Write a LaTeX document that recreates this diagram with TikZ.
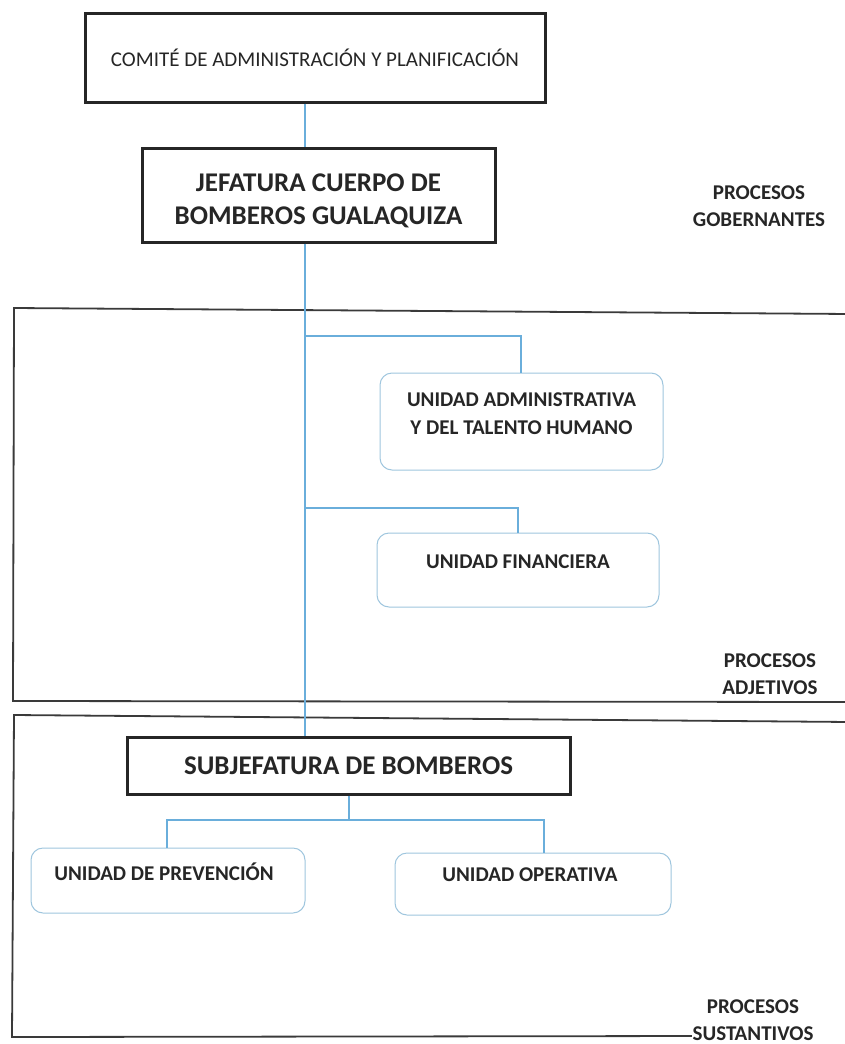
\documentclass[tikz,border=0pt]{standalone}
\usepackage{fontspec}
\setmainfont{Carlito}
\definecolor{ink}{HTML}{262626}
\definecolor{conncol}{HTML}{6AAEDB}
\definecolor{boxcol}{HTML}{9FC6DE}
\definecolor{framecol}{HTML}{3A3A3A}
\tikzset{
  heavybox/.style={draw=ink, line width=3pt, fill=white, text=ink, align=center, inner sep=0pt},
  softbox/.style={draw=boxcol, line width=1pt, rounded corners=12pt, fill=white, inner sep=0pt},
  softtext/.style={text=ink, align=center, font=\bfseries\fontsize{21}{28}\selectfont, inner sep=0pt},
  conn/.style={draw=conncol, line width=1.05pt},
  frameline/.style={draw=framecol, line width=1.8pt},
  proclabel/.style={text=ink, align=center, font=\bfseries\fontsize{21}{27}\selectfont, fill=white, inner sep=1pt}
}
\begin{document}
\begin{tikzpicture}[x=1pt,y=-1pt]
\useasboundingbox (0,0) rectangle (845,1044);
% frames
\draw[frameline] (850,314) -- (14,308) -- (13,701) -- (850,702);
\draw[frameline] (850,722) -- (14,715) -- (12,1037) -- (700,1036);
% boxes
\node[heavybox, minimum width=460, minimum height=89, font=\fontsize{21}{25}\selectfont] (comite) at (315,57.5) {\raisebox{-3pt}{COMITÉ DE ADMINISTRACIÓN Y PLANIFICACIÓN}};
\node[heavybox, minimum width=353, minimum height=94] (jef) at (318.5,195) {};
\node[text=ink, align=center, inner sep=0pt, font=\bfseries\fontsize{27}{33}\selectfont] (jeft) at (318.5,201) {JEFATURA CUERPO DE\\BOMBEROS GUALAQUIZA};
\node[heavybox, minimum width=443, minimum height=57, font=\bfseries\fontsize{27}{30}\selectfont] (subj) at (348.5,765.5) {SUBJEFATURA DE BOMBEROS};
\node[softbox, minimum width=283, minimum height=97] (ua) at (521.5,421.5) {};
\node[softtext] (uat) at (521.5,414) {UNIDAD ADMINISTRATIVA\\Y DEL TALENTO HUMANO};
\node[softbox, minimum width=282, minimum height=74] (uf) at (518,570) {};
\node[softtext] (uft) at (518,562) {UNIDAD FINANCIERA};
\node[softbox, minimum width=274, minimum height=65] (prev) at (168,880.5) {};
\node[softtext] (prevt) at (164,872) {UNIDAD DE PREVENCIÓN};
\node[softbox, minimum width=276, minimum height=62] (op) at (533,884) {};
\node[softtext] (opt) at (530,875) {UNIDAD OPERATIVA};
% labels
\node[proclabel] (pg) at (759,206) {PROCESOS\\GOBERNANTES};
\node[proclabel] (pa) at (770,674) {PROCESOS\\ADJETIVOS};
\node[proclabel] (ps) at (753,1020) {PROCESOS\\SUSTANTIVOS};
% connectors
\coordinate (spine) at (305,0);
\coordinate (b1) at (305,336);
\coordinate (b2) at (305,508);
\coordinate (sb) at (349,820);
\coordinate (opx) at (544,0);
\coordinate (uax) at (521,0);
\coordinate (ufx) at (518,0);
\coordinate (prx) at (167,0);
\draw[conn] (comite.south -| spine) -- (jef.north -| spine);
\draw[conn] (jef.south -| spine) -- (subj.north -| spine);
\draw[conn] (b1) -| (ua.north -| uax);
\draw[conn] (b2) -| (uf.north -| ufx);
\draw[conn] (subj.south -| sb) -- (sb);
\draw[conn] (sb) -| (prev.north -| prx);
\draw[conn] (sb) -| (op.north -| opx);
\end{tikzpicture}
\end{document}
